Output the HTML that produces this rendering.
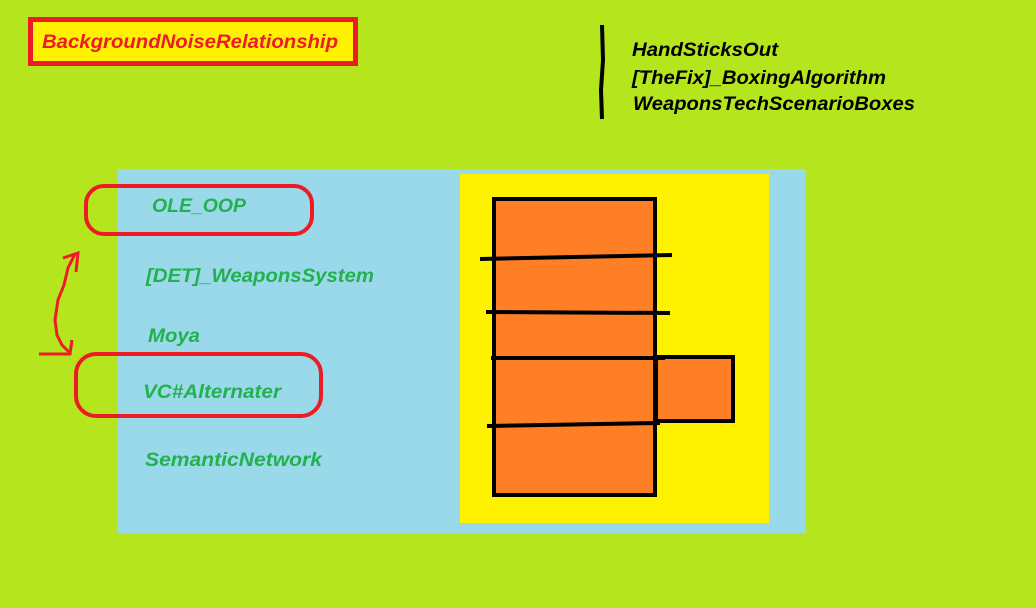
<!DOCTYPE html>
<html><head><style>
body{margin:0;background:#b5e61d;}
svg{display:block}
text{font-family:"Liberation Sans",sans-serif;font-weight:bold;font-style:italic;}
</style></head><body>
<svg width="1036" height="608" viewBox="0 0 1036 608">
<rect width="1036" height="608" fill="#b5e61d"/>
<rect x="30.5" y="19.5" width="325" height="44" fill="#fff200" stroke="#ed1c24" stroke-width="5"/>
<text x="42" y="48" font-size="19" fill="#ed1c24" textLength="296" lengthAdjust="spacingAndGlyphs">BackgroundNoiseRelationship</text>
<path d="M602 25 L603 60 L601 90 L602 119" stroke="#000" stroke-width="4" fill="none"/>
<text x="632" y="56" font-size="19" fill="#000" textLength="146" lengthAdjust="spacingAndGlyphs">HandSticksOut</text>
<text x="632" y="84" font-size="19" fill="#000" textLength="254" lengthAdjust="spacingAndGlyphs">[TheFix]_BoxingAlgorithm</text>
<text x="633" y="110" font-size="19" fill="#000" textLength="282" lengthAdjust="spacingAndGlyphs">WeaponsTechScenarioBoxes</text>
<rect x="118" y="169" width="688" height="364" fill="#99d9ea"/>
<rect x="460" y="174" width="309" height="349" fill="#fff200"/>
<rect x="494" y="199" width="161" height="296" fill="#ff7f27" stroke="#000" stroke-width="4"/>
<rect x="656" y="357" width="77" height="64" fill="#ff7f27" stroke="#000" stroke-width="4"/>
<g stroke="#000" stroke-width="4" fill="none">
<path d="M480 259 L672 255"/><path d="M486 312 L670 313"/><path d="M491 358 L665 358"/><path d="M487 426 L660 423"/>
</g>
<rect x="86" y="186" width="226" height="48" rx="18" fill="none" stroke="#ed1c24" stroke-width="4"/>
<rect x="76" y="354" width="245" height="62" rx="20" fill="none" stroke="#ed1c24" stroke-width="4"/>
<path d="M75 254 L68 268 L64 285 L58 300 L55 320 L57 335 L62 345 L69 352 M63 258 L78 253 L76 272 M39 354 L70 354 L72 340" stroke="#ed1c24" stroke-width="3" fill="none"/>
<g font-size="19" fill="#22b14c">
<text x="152" y="212" textLength="94" lengthAdjust="spacingAndGlyphs">OLE_OOP</text>
<text x="146" y="282" textLength="228" lengthAdjust="spacingAndGlyphs">[DET]_WeaponsSystem</text>
<text x="148" y="342" textLength="52" lengthAdjust="spacingAndGlyphs">Moya</text>
<text x="143" y="398" textLength="138" lengthAdjust="spacingAndGlyphs">VC#Alternater</text>
<text x="145" y="466" textLength="177" lengthAdjust="spacingAndGlyphs">SemanticNetwork</text>
</g>
</svg>
</body></html>
